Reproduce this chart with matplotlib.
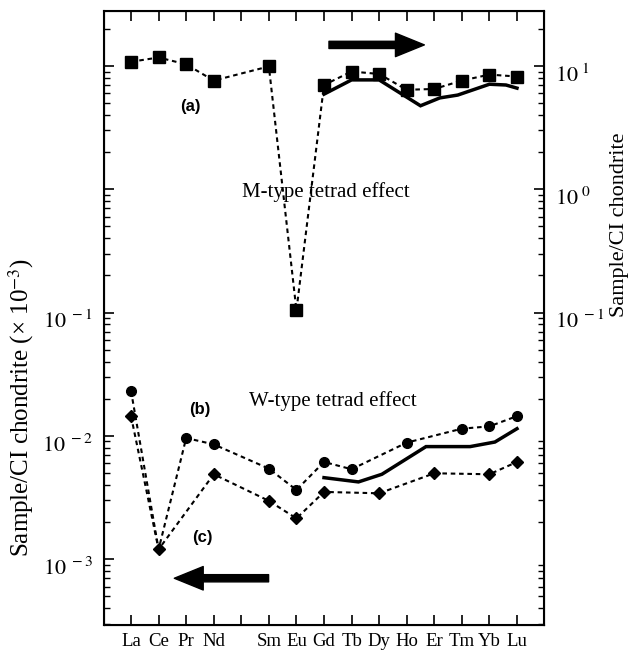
import numpy as np
import matplotlib
matplotlib.use('Agg')
import matplotlib.pyplot as plt
from matplotlib.ticker import FixedLocator, FixedFormatter, LogLocator, NullFormatter
from matplotlib.transforms import ScaledTranslation

plt.rcParams['font.family'] = ['Liberation Serif', 'DejaVu Serif']
plt.rcParams['mathtext.fontset'] = 'stix'

ree = ['La', 'Ce', 'Pr', 'Nd', 'Pm', 'Sm', 'Eu', 'Gd', 'Tb', 'Dy', 'Ho', 'Er', 'Tm', 'Yb', 'Lu']
ree_labels = ['La', 'Ce', 'Pr', 'Nd', '', 'Sm', 'Eu', 'Gd', 'Tb', 'Dy', 'Ho', 'Er', 'Tm', 'Yb', 'Lu']
nan = np.nan

# (a) M-type, squares
m_type = [10.8, 11.7, 10.3, 7.6, nan, 9.9, 0.104, 7.0, 9.0, 8.6, 6.4, 6.5, 7.6, 8.5, 8.2]
# (b) W-type, circles (Ce shared with c)
w_type_b = [0.0231, 0.00120, 0.0096, 0.00853, nan, 0.00542, 0.00364, 0.00614, 0.00536,
            nan, 0.00881, nan, 0.01143, 0.01194, 0.01445]
# (c) diamonds
w_type_c = [0.01445, 0.00120, nan, 0.00488, nan, 0.00297, 0.00214, 0.00351, nan,
            0.00342, nan, 0.00497, nan, 0.00488, 0.00614]

# solid reference curves
curve_a_x = [7, 8, 9, 10.5, 11.2, 11.85, 13, 13.6, 14]
curve_a_y = [5.9, 7.7, 7.7, 4.75, 5.5, 5.8, 7.1, 7.0, 6.6]
curve_b_x = [7, 8.25, 9.1, 10.7, 12.3, 13.2, 14]
curve_b_y = [0.00458, 0.00423, 0.00488, 0.00818, 0.00818, 0.00891, 0.01143]

x_all = np.arange(len(ree))


def present(vals):
    vals = np.asarray(vals, dtype=float)
    ok = ~np.isnan(vals)
    return x_all[ok], vals[ok]


def log_axis(axis, labels_at, labels):
    axis.set_yscale('log')
    axis.yaxis.set_major_locator(FixedLocator(labels_at))
    axis.yaxis.set_major_formatter(FixedFormatter(labels))
    axis.yaxis.set_minor_locator(LogLocator(base=10, subs=np.arange(2, 10)))
    axis.yaxis.set_minor_formatter(NullFormatter())


fig = plt.figure(figsize=(6.37, 6.52), dpi=100)
ax = fig.add_axes([0.1633, 0.0414, 0.6907, 0.9417])

dash = (0, (2.2, 1.8))
xa, ya = present(m_type)
ax.plot(xa, ya, color='k', ls=dash, lw=1.5, marker='s', ms=8, zorder=3)
xb, yb = present(w_type_b)
skip = [i for i, xx in enumerate(xb) if ree[xx] != 'Ce']
ax.plot(xb, yb, color='k', ls=dash, lw=1.5, marker='o', ms=7, markevery=skip, zorder=3)
xc, yc = present(w_type_c)
ax.plot(xc, yc, color='k', ls=dash, lw=1.5, marker='D', ms=6, zorder=4)

ax.plot(curve_a_x, curve_a_y, color='k', lw=2.5, solid_joinstyle='miter')
ax.plot(curve_b_x, curve_b_y, color='k', lw=2.5, solid_joinstyle='miter')

log_axis(ax, [1e-3, 1e-2, 1e-1, 1, 10],
         [r'$10^{\ -3}$', r'$10^{\ -2}$', r'$10^{\ -1}$', '', ''])
ax.set_xlim(-0.98, 14.98)
ax.set_ylim(10 ** -3.534, 10 ** 1.445)
ax.set_xticks(x_all)
ax.set_xticklabels(ree_labels)
ax.tick_params(which='major', direction='in', length=7, width=1.2, top=True, right=True,
               labelsize=16, pad=8)
ax.tick_params(axis='x', which='major', labelsize=13.5, pad=6)
ax.tick_params(which='minor', direction='in', length=4, width=1.0, right=True)
for s in ax.spines.values():
    s.set_linewidth(1.5)

ax2 = ax.twinx()
log_axis(ax2, [1e-1, 1, 10], [r'$10^{\ -1}$', r'$10^{\ 0}$', r'$10^{\ 1}$'])
ax2.set_ylim(ax.get_ylim())
ax2.tick_params(which='major', direction='in', length=7, width=1.2, labelsize=16, pad=8)
ax2.tick_params(which='minor', direction='in', length=4, width=1.0)

# tick labels sit a little below their ticks in the original
shift = ScaledTranslation(0, -5 / 72, fig.dpi_scale_trans)
for lab in ax.get_yticklabels() + ax2.get_yticklabels():
    lab.set_transform(lab.get_transform() + shift)

fig.text(0.033, 0.375, r'Sample/CI chondrite (× 10$^{-3}$)', rotation=90, fontsize=18,
         ha='center', va='center')
fig.text(0.972, 0.655, 'Sample/CI chondrite', rotation=90, fontsize=16,
         ha='center', va='center')

ax.text(2.14, 4.65, '(a)', family='Liberation Sans', weight='bold', fontsize=12,
        ha='center', va='center')
ax.text(2.5, 0.0164, '(b)', family='Liberation Sans', weight='bold', fontsize=12,
        ha='center', va='center')
ax.text(2.57, 0.0015, '(c)', family='Liberation Sans', weight='bold', fontsize=12,
        ha='center', va='center')
ax.text(7.07, 0.94, 'M-type tetrad effect', fontsize=15, ha='center', va='center')
ax.text(7.33, 0.019, 'W-type tetrad effect', fontsize=15, ha='center', va='center')

arrow = dict(arrowstyle='simple,head_length=1.6,head_width=1.3,tail_width=0.4',
             mutation_scale=13, color='k', shrinkA=0, shrinkB=0)
ax.annotate('', xy=(10.64, 14.8), xytext=(7.18, 14.8), arrowprops=arrow)
ax.annotate('', xy=(1.57, 7.0e-4), xytext=(4.99, 7.0e-4), arrowprops=arrow)

fig.savefig('out.png', dpi=100)
